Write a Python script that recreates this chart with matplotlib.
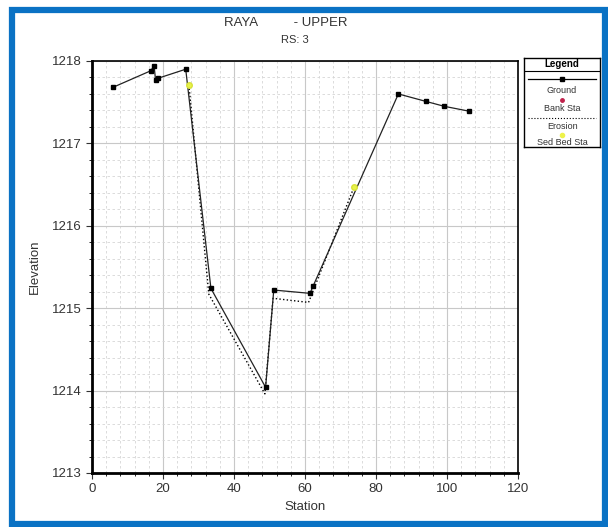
import matplotlib
matplotlib.use('Agg')
import matplotlib.pyplot as plt
import numpy as np
from matplotlib.patches import Rectangle
from matplotlib.ticker import MultipleLocator

plt.rcParams['font.family'] = ['Liberation Sans', 'DejaVu Sans']

# ground profile (station, elevation)
ground_sta = [5.9, 16.5, 17.5, 17.9, 18.6, 26.4, 33.5, 48.9, 51.2, 61.4, 62.3, 86.3, 94.0, 99.2, 106.3]
ground_elev = [1217.68, 1217.88, 1217.94, 1217.77, 1217.79, 1217.90, 1215.24, 1214.04, 1215.22,
               1215.18, 1215.27, 1217.60, 1217.51, 1217.45, 1217.39]

# eroded bed between the sediment bed stations
erosion_sta = [27.3, 32.9, 48.7, 51.0, 61.0, 73.8]
erosion_elev = [1217.71, 1215.17, 1213.96, 1215.12, 1215.07, 1216.47]

sed_bed_sta = [27.3, 73.8]
sed_bed_elev = [1217.71, 1216.47]

fig = plt.figure(figsize=(6.08, 5.27), dpi=100)

# blue frame around the picture
fig.patches.append(Rectangle((0.0197, 0.0057), 0.9753, 0.9753, transform=fig.transFigure,
                             fill=False, edgecolor='#0a72c4', linewidth=4.5))

ax = fig.add_axes([0.1513, 0.1025, 0.7007, 0.7818])
ax.plot(erosion_sta, erosion_elev, color='black', linestyle=':', linewidth=1.0, zorder=3)
ax.plot(ground_sta, ground_elev, color='#222222', linewidth=0.9, marker='s', markersize=3.2,
        markerfacecolor='black', markeredgecolor='black', zorder=4)
ax.plot(sed_bed_sta, sed_bed_elev, linestyle='none', marker='o', markersize=4,
        color='#e8f24a', markeredgecolor='#d8e23a', zorder=5)

ax.set_xlim(0, 120)
ax.set_ylim(1213, 1218)
ax.xaxis.set_major_locator(MultipleLocator(20))
ax.xaxis.set_minor_locator(MultipleLocator(4))
ax.yaxis.set_major_locator(MultipleLocator(1))
ax.yaxis.set_minor_locator(MultipleLocator(0.2))
ax.grid(which='major', color='#c8c8c8', linewidth=0.8)
ax.grid(which='minor', color='#d6d6d6', linewidth=0.6, linestyle=(0, (3, 3)))
ax.set_axisbelow(True)
for s in ax.spines.values():
    s.set_linewidth(1.2)
ax.spines['left'].set_linewidth(2.0)
ax.spines['bottom'].set_linewidth(2.0)
ax.tick_params(which='major', length=4, labelsize=9.5, colors='#333333')
ax.tick_params(which='minor', length=2.5)
ax.set_xlabel('Station', fontsize=9.5, color='#333333', labelpad=4)
ax.set_ylabel('Elevation', fontsize=9.5, color='#333333', labelpad=8)

fig.text(0.47, 0.957, 'RAYA          - UPPER', ha='center', va='center', fontsize=9.5, color='#333333')
fig.text(0.485, 0.925, 'RS: 3', ha='center', va='center', fontsize=8, color='#333333')

# legend box
lg = fig.add_axes([0.862, 0.721, 0.125, 0.169])
lg.set_xlim(0, 1)
lg.set_ylim(0, 1)
lg.set_xticks([])
lg.set_yticks([])
for s in lg.spines.values():
    s.set_linewidth(1.0)
lg.text(0.5, 0.93, 'Legend', ha='center', va='center', fontsize=7, fontweight='bold')
lg.axhline(0.85, color='black', linewidth=0.8)
lg.plot([0.05, 0.95], [0.76, 0.76], color='black', linewidth=0.9)
lg.plot([0.5], [0.76], marker='s', markersize=3, color='black')
lg.text(0.5, 0.64, 'Ground', ha='center', va='center', fontsize=6.5, color='#333333')
lg.plot([0.5], [0.53], marker='o', markersize=2.5, color='#c0204a')
lg.text(0.5, 0.43, 'Bank Sta', ha='center', va='center', fontsize=6.5, color='#333333')
lg.plot([0.05, 0.95], [0.33, 0.33], color='black', linestyle=':', linewidth=0.8)
lg.text(0.5, 0.23, 'Erosion', ha='center', va='center', fontsize=6.5, color='#333333')
lg.plot([0.5], [0.14], marker='o', markersize=3, color='#eef24a')
lg.text(0.5, 0.05, 'Sed Bed Sta', ha='center', va='center', fontsize=6.5, color='#333333')

fig.savefig('out.png', dpi=100)
